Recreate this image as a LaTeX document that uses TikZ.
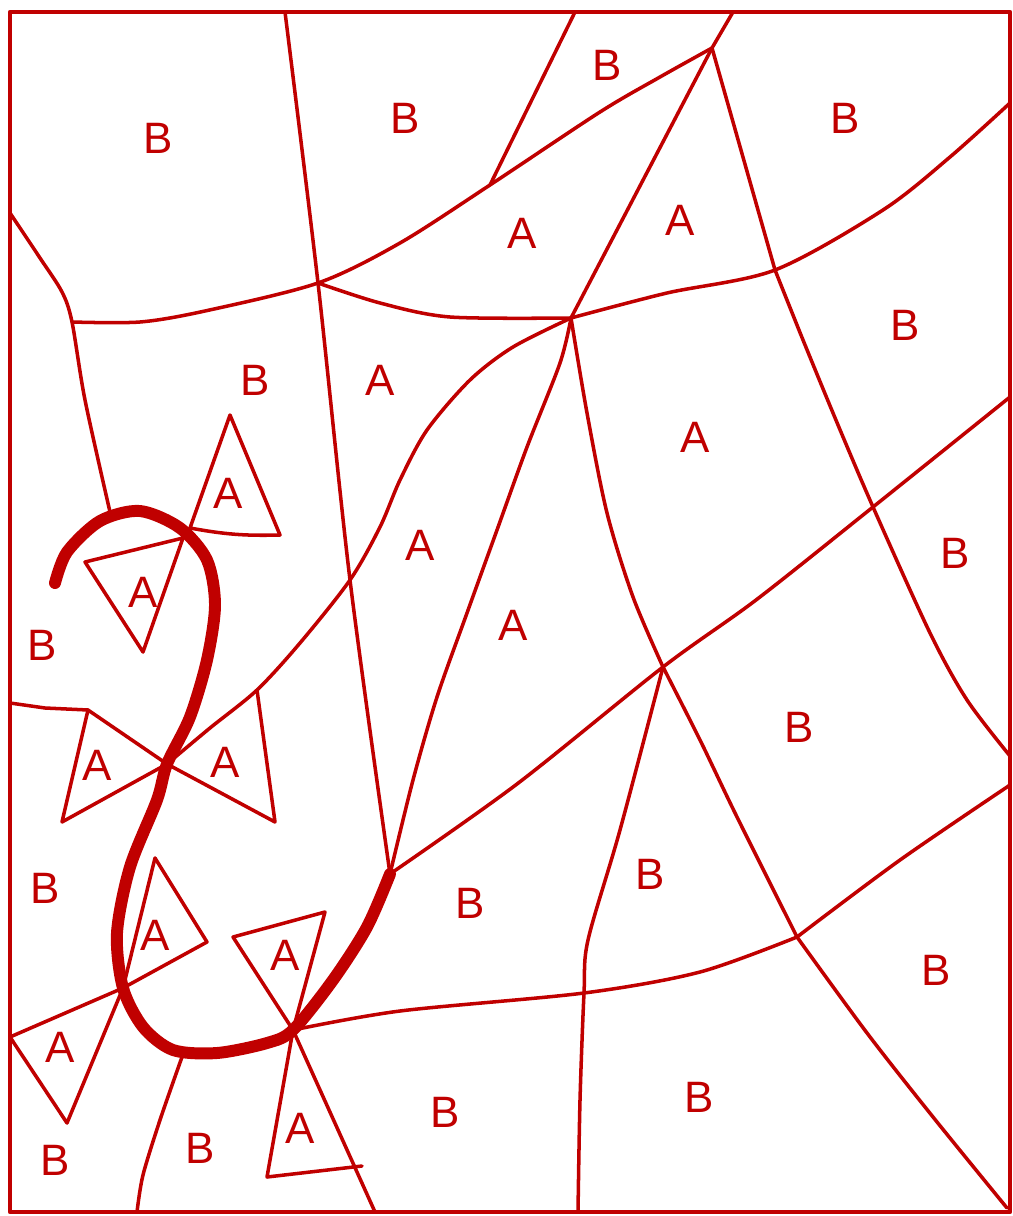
\documentclass[tikz,border=0pt]{standalone}
\usepackage{fontspec}
\setsansfont{Liberation Sans}
\definecolor{inkred}{RGB}{192,0,0}
\begin{document}
\begin{tikzpicture}[x=0.01cm, y=-0.01cm, line join=round, line cap=round,
    every node/.style={font=\sffamily\fontsize{12.5}{14}\selectfont, text=inkred},
    edge/.style={draw=inkred, line width=1pt},
    swirl/.style={draw=inkred, line width=3.4pt}]
  \useasboundingbox (0,0) rectangle (1013,1216);

  \coordinate (P) at (318,283);
  \coordinate (Q) at (712,48);
  \coordinate (R) at (571,318);
  \coordinate (S) at (775,270);
  \coordinate (T) at (390,874);
  \coordinate (U) at (663,667);
  \coordinate (V) at (797,937);
  \coordinate (W) at (584,993);
  \coordinate (X) at (293,1030);
  \coordinate (K) at (72,322);
  \coordinate (M) at (490,185);
  \coordinate (C) at (167,764);
  \coordinate (D) at (123,988);
  \coordinate (E) at (257,690);

  \draw[edge, line width=1.3pt] (10,12) rectangle (1010,1212);

  \draw[edge] plot[smooth] coordinates {(285,12) (P) (350,580) (T)};
  \draw[edge] plot[smooth] coordinates {(10,213) (40,258) (62,292) (K) (85,400) (110,512)};
  \draw[edge] plot[smooth] coordinates {(K) (140,322) (205,311) (P) (400,243) (M) (600,112) (660,77) (Q)};
  \draw[edge] (Q) -- (733,12);
  \draw[edge] (M) -- (575,12);
  \draw[edge] plot[smooth] coordinates {(P) (380,303) (450,317) (R)};
  \draw[edge] plot[smooth] coordinates {(R) (667,293) (S) (883,210) (950,157) (1010,103)};
  \draw[edge] (Q) -- (R);
  \draw[edge] plot[smooth] coordinates {(R) (560,363) (527,447) (497,530) (467,613) (437,697) (413,780) (T)};
  \draw[edge] (Q) -- (S);
  \draw[edge] plot[smooth] coordinates {(S) (803,340) (838,425) (873,507) (930,633) (967,700) (1010,756)};
  \draw[edge] plot[smooth] coordinates {(R) (587,413) (607,513) (633,597) (U)};
  \draw[edge] plot[smooth] coordinates {(U) (700,740) (737,817) (V)};
  \draw[edge] plot[smooth] coordinates {(V) (867,1033) (933,1117) (1007,1208)};
  \draw[edge] plot[smooth] coordinates {(R) (513,347) (470,380) (427,430) (400,480) (380,527) (350,580) (300,643) (E) (210,728) (C)};
  \draw[edge] plot[smooth] coordinates {(T) (517,784) (U) (756,600) (873,507) (1010,397)};
  \draw[edge] plot[smooth] coordinates {(U) (620,830) (588,940) (W) (580,1100) (578,1212)};
  \draw[edge] plot[smooth] coordinates {(X) (400,1011) (W) (700,972) (V)};
  \draw[edge] plot[smooth] coordinates {(V) (900,860) (1010,785)};
  \draw[edge] plot[smooth] coordinates {(182,1057) (160,1120) (143,1175) (137,1212)};

  \draw[edge] (230,415) -- (280,535) to[bend left=6] (190,528) -- cycle;
  \draw[edge] (85,562) -- (183,538) -- (143,652) -- cycle;
  \draw[edge] (10,703) -- (45,708) -- (88,710);
  \draw[edge] (88,710) -- (C) -- (62,822) -- cycle;
  \draw[edge] (E) -- (275,822) -- (C);
  \draw[edge] (155,858) -- (207,942) -- (D) -- (10,1037);
  \draw[edge] (155,858) -- (D) -- (67,1123) -- (10,1037);
  \draw[edge] (233,937) -- (325,912) -- (X) -- cycle;
  \draw[edge] (X) -- (375,1212);
  \draw[edge] (X) -- (267,1177) -- (362,1166);

  \draw[swirl] plot[smooth] coordinates {(55,583) (67,552) (100,521) (140,511) (180,528) (207,560) (215,605) (207,660) (190,717) (C) (157,800) (130,867) (117,933) (D) (143,1027) (173,1050) (217,1053) (267,1043) (X) (333,980) (367,927) (T)};

  \node (b1) at (158,138) {B};
  \node (b2) at (405,118) {B};
  \node (b3) at (607,65) {B};
  \node (b4) at (845,118) {B};
  \node (b5) at (905,325) {B};
  \node (b6) at (955,553) {B};
  \node (b7) at (255,380) {B};
  \node (b8) at (42,645) {B};
  \node (b9) at (45,888) {B};
  \node (b10) at (55,1160) {B};
  \node (b11) at (200,1148) {B};
  \node (b12) at (445,1112) {B};
  \node (b13) at (699,1097) {B};
  \node (b14) at (936,970) {B};
  \node (b15) at (470,903) {B};
  \node (b16) at (650,874) {B};
  \node (b17) at (799,727) {B};

  \node (a1) at (522,233) {A};
  \node (a2) at (680,220) {A};
  \node (a3) at (380,380) {A};
  \node (a4) at (695,437) {A};
  \node (a5) at (420,545) {A};
  \node (a6) at (513,625) {A};
  \node (a7) at (228,493) {A};
  \node (a8) at (143,592) {A};
  \node (a9) at (97,765) {A};
  \node (a10) at (225,762) {A};
  \node (a11) at (155,935) {A};
  \node (a12) at (285,955) {A};
  \node (a13) at (60,1047) {A};
  \node (a14) at (300,1128) {A};
\end{tikzpicture}
\end{document}
